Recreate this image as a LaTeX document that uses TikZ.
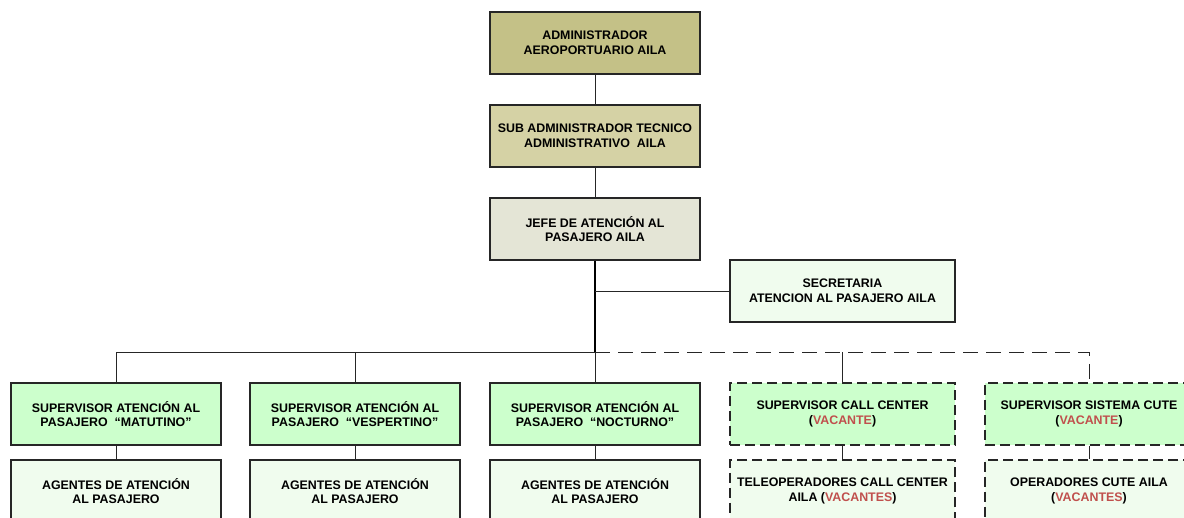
\documentclass[tikz,border=0pt]{standalone}
\usepackage{fontspec}
\setmainfont{Liberation Sans}
\definecolor{olA}{RGB}{196,193,135}
\definecolor{olB}{RGB}{213,210,165}
\definecolor{olC}{RGB}{228,229,214}
\definecolor{grA}{RGB}{204,255,204}
\definecolor{grB}{RGB}{240,252,238}
\definecolor{vac}{RGB}{192,80,77}
\tikzset{
  box/.style={draw=black!85, line width=1.3pt, align=center, inner sep=2pt,
    minimum height=62pt, font=\bfseries\fontsize{12.4}{14.6}\selectfont},
  wide/.style={minimum width=210pt},
  wider/.style={minimum width=225pt},
  dbox/.style={box, line width=1.1pt, dash pattern=on 10pt off 5pt},
  conn/.style={line width=0.9pt, draw=black!85},
  dconn/.style={conn, dash pattern=on 15pt off 8pt},
}
\newcommand{\vac}[1]{\textcolor{vac}{#1}}
\begin{document}
\begin{tikzpicture}[x=1pt,y=-1pt]
\useasboundingbox (0,0) rectangle (1184,518);
\clip (0,0) rectangle (1184,518);
\fill[white] (0,0) rectangle (1184,518);
\node[box,wide,fill=olA] (adm) at (595,43) {ADMINISTRADOR\\AEROPORTUARIO AILA};
\node[box,wide,fill=olB] (sub) at (595,136) {SUB ADMINISTRADOR TECNICO\\ADMINISTRATIVO\ \ AILA};
\node[box,wide,fill=olC] (jefe) at (595,229) {JEFE DE ATENCIÓN AL\\PASAJERO AILA};
\node[box,wider,fill=grB] (sec) at (842.5,291) {SECRETARIA\\ATENCION AL PASAJERO AILA};
\coordinate (bus) at (595,352);
\coordinate (sectap) at (595,291);
\node[box,wide,fill=grA] (sa) at (116,414) {SUPERVISOR ATENCIÓN AL\\PASAJERO\ \ “MATUTINO”};
\node[box,wide,fill=grA] (sb) at (355,414) {SUPERVISOR ATENCIÓN AL\\PASAJERO\ \ “VESPERTINO”};
\node[box,wide,fill=grA] (sc) at (595,414) {SUPERVISOR ATENCIÓN AL\\PASAJERO\ \ “NOCTURNO”};
\node[dbox,wider,fill=grA] (sd) at (842.5,414) {SUPERVISOR CALL CENTER\\(\vac{VACANTE})};
\node[dbox,minimum width=208pt,fill=grA] (se) at (1089,414) {SUPERVISOR SISTEMA CUTE\\(\vac{VACANTE})};
\node[box,wide,fill=grB] (aa) at (116,491) {AGENTES DE ATENCIÓN\\AL PASAJERO};
\node[box,wide,fill=grB] (ab) at (355,491) {AGENTES DE ATENCIÓN\\AL PASAJERO};
\node[box,wide,fill=grB] (ac) at (595,491) {AGENTES DE ATENCIÓN\\AL PASAJERO};
\node[dbox,wider,fill=grB] (ad) at (842.5,491) {TELEOPERADORES CALL CENTER\\AILA (\vac{VACANTES})};
\node[dbox,minimum width=208pt,fill=grB] (ae) at (1089,491) {OPERADORES CUTE AILA\\(\vac{VACANTES})};
% connectors
\draw[conn] (adm) -- (sub);
\draw[conn] (sub) -- (jefe);
\draw[conn, line width=1.8pt, draw=black] (jefe.south) -- (bus);
\draw[conn] (sectap) -- (sec.west);
\draw[conn] (sa.north) |- (bus);
\draw[conn] (sb.north) -- (sb.north |- bus);
\draw[conn] (sc.north) -- (bus);
\draw[dconn] (bus) -| (se.north);
\draw[conn] (sd.north) -- (sd.north |- bus);
\draw[conn] (sa) -- (aa);
\draw[conn] (sb) -- (ab);
\draw[conn] (sc) -- (ac);
\draw[conn] (sd.south) -- (sd.south |- ad.north);
\draw[conn] (se.south) -- (se.south |- ae.north);
\end{tikzpicture}
\end{document}
